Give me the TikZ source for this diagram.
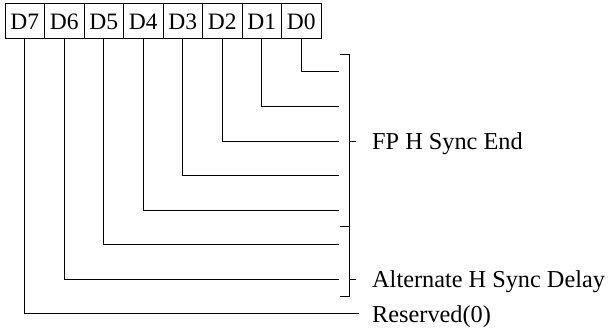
\documentclass[tikz,border=0pt]{standalone}
\usepackage{fontspec}
\setmainfont{Liberation Serif}
\begin{document}
\begin{tikzpicture}[x=1pt,y=-1pt,
  bitbox/.style={draw,line width=1pt,minimum width=39.5pt,minimum height=35pt,inner sep=0pt,font=\fontsize{23.5}{25}\selectfont},
  lead/.style={line width=1pt},
  lbl/.style={anchor=base west,inner sep=0pt,font=\fontsize{24.3}{26}\selectfont}]
\useasboundingbox (0,0) rectangle (608,329);
% bit boxes
\foreach \i in {7,...,0}{
  \pgfmathsetmacro{\cx}{5+39.5*(7-\i)+19.75}
  \node[bitbox] (b\i) at (\cx,21.5) {D\i};
}
% lead end points
\foreach \i/\yy in {0/72,1/106.5,2/141,3/175.5,4/210,5/244.5,6/279}{
  \coordinate (e\i) at (339,\yy);
}
\coordinate (e7) at (359,313);
\foreach \i in {0,...,7}{
  \draw[lead] (b\i.south) |- (e\i);
}
% brackets
\coordinate (bt) at (349,55);
\coordinate (bm) at (349,226);
\coordinate (bb) at (349,296);
\draw[lead] (340,55) -- (bt) -- (bb) -- (340,296);
\draw[lead] (340,226) -- (bm);
\coordinate (t1) at (349,141);
\coordinate (t2) at (349,279);
\draw[lead] (t1) -- ++(7,0);
\draw[lead] (t2) -- ++(7,0);
% labels
\node[lbl] (l1) at (372,149) {FP H Sync End};
\node[lbl] (l2) at (372,287) {Alternate H Sync Delay};
\node[lbl] (l3) at (372,322) {Reserved(0)};
\end{tikzpicture}
\end{document}
